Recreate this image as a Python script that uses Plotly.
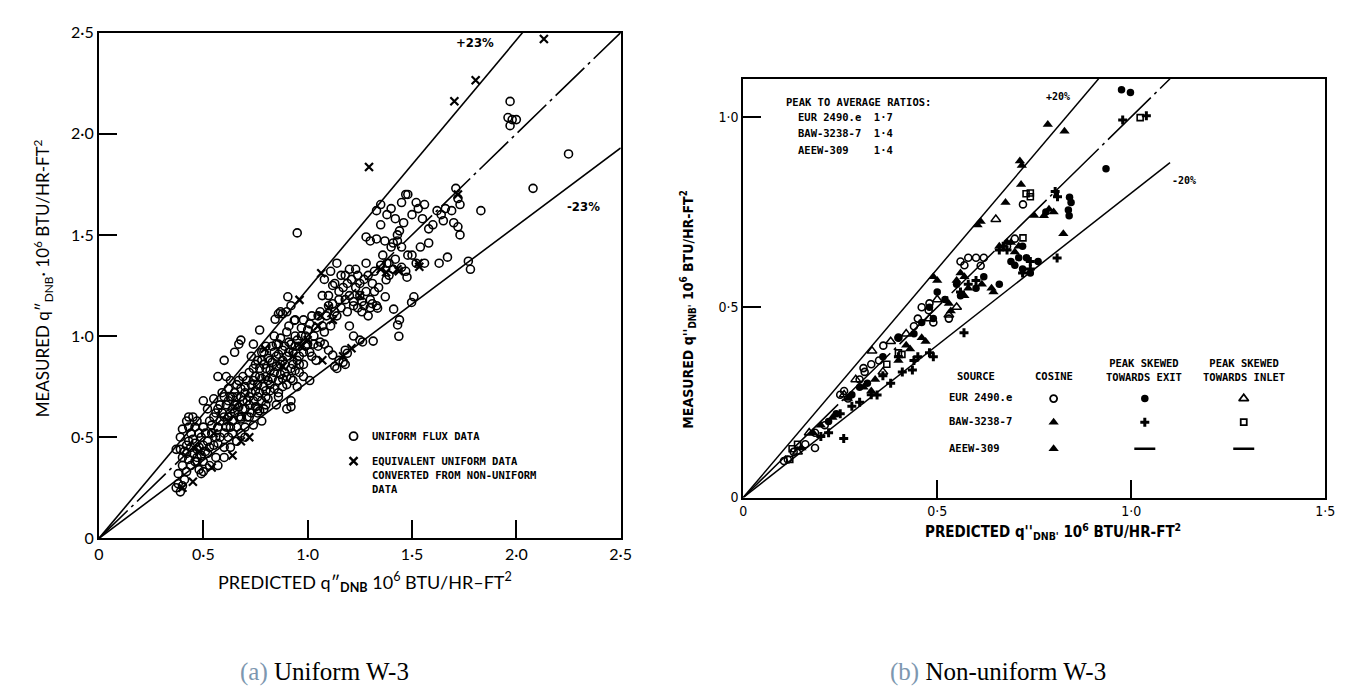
import plotly.graph_objects as go

W, H = 1347, 695

# ---------------- Panel (a): Uniform W-3 ----------------
uni_x = [0.37,0.38,0.39,0.40,0.41,0.38,0.40,0.42,0.43,0.45,0.44,0.46,0.41,0.39,0.43,0.44,0.46,0.47,0.45,0.48,
         0.49,0.47,0.50,0.48,0.51,0.50,0.52,0.53,0.54,0.55,0.56,0.52,0.55,0.57,0.58,0.56,0.53,0.49,0.60,0.58,
         0.60,0.61,0.59,0.62,0.63,0.64,0.62,0.65,0.66,0.63,0.61,0.67,0.68,0.67,0.69,0.70,0.71,0.72,0.70,0.68,
         0.66,0.73,0.72,0.74,0.75,0.73,0.76,0.77,0.78,0.75,0.77,0.79,0.80,0.79,0.81,0.82,0.80,0.83,0.84,0.85,
         0.82,0.86,0.87,0.84,0.86,0.88,0.89,0.90,0.88,0.91,0.92,0.90,0.93,0.94,0.95,0.93,0.96,0.97,0.98,0.99,
         0.96,1.00,1.01,1.02,1.03,0.95,0.92,0.90,0.85,0.78,0.74,0.70,0.66,0.67,0.74,0.60,0.57,0.87,0.86,0.88,
         0.90,0.92,0.905,0.844,0.936,
         1.05,1.07,1.08,1.10,1.12,1.11,1.13,1.15,1.16,1.14,1.18,1.19,1.20,1.22,1.23,1.24,1.25,1.26,1.27,1.28,
         1.30,1.31,1.29,1.32,1.33,1.34,1.35,1.36,1.38,1.40,1.39,1.42,1.41,1.43,1.37,1.35,1.33,1.30,1.28,
         1.20,1.22,1.25,1.18,1.15,1.17,1.13,1.10,1.08,1.06,1.04,1.01,0.98,1.314,1.263,1.19,1.18,1.14,1.12,
         1.437,1.431,1.509,1.498,1.476,1.412,1.372,1.335,1.376,
         1.33,1.35,1.38,1.40,1.42,1.44,1.45,1.47,1.48,1.50,1.52,1.53,1.55,1.56,1.46,1.43,1.45,1.48,1.50,1.52,
         1.54,1.56,1.58,1.62,1.64,1.65,1.63,1.67,1.69,1.70,1.72,1.73,1.72,1.73,1.71,1.66,1.60,1.58,1.39,1.41,
         1.45,1.47,
         1.97,1.96,1.98,1.97,2.00,2.25,2.08,1.83,0.95,1.77,1.78,1.44,
         0.47,0.50,0.57,0.60,0.63,0.92,0.86,0.80,0.76,0.68,0.63,0.37,0.39,0.40,0.42,0.43,0.50,0.65,0.68,0.77,
         0.60,0.62,0.64,0.65,0.66,0.68,0.69,0.70,0.71,0.72,0.73,0.74,0.75,0.76,0.76,0.77,0.78,0.78,0.79,0.80,
         0.80,0.81,0.82,0.83,0.83,0.84,0.85,0.85,0.86,0.87,0.87,0.88,0.89,0.89,0.90,0.91,0.91,0.92,0.93,0.94,
         0.94,0.95,0.96,0.97,0.98,0.98,0.99,1.00,1.01,1.02,1.03,1.04,1.05,1.06,1.07,1.08,1.09,1.10,1.11,1.12,
         1.13,1.14,1.15,1.16,1.17,1.18,1.19,1.20,1.21,1.22,1.23,1.24,1.25,1.26,1.27,1.28,1.29,1.30,1.31,1.32,
         0.50,0.51,0.52,0.53,0.54,0.55,0.56,0.57,0.57,0.58,0.59,0.60,0.61,0.62,0.63,0.64,0.64,0.65,0.66,0.67,
         0.68,0.69,0.70,0.71,0.72,0.73,0.74,0.75,0.76,0.77,0.78,0.79,0.80,0.81,0.82,0.84,0.86,0.88,0.90,0.92,
         0.94,0.96,0.42,0.44,0.45,0.46,0.47,0.48,0.49,0.40,0.42,0.43]
uni_y = [0.25,0.27,0.23,0.26,0.29,0.32,0.36,0.33,0.39,0.42,0.36,0.47,0.43,0.44,0.48,0.52,0.55,0.58,0.60,0.45,
         0.50,0.40,0.38,0.34,0.43,0.55,0.48,0.58,0.52,0.46,0.62,0.64,0.69,0.55,0.50,0.40,0.36,0.32,0.45,0.66,
         0.60,0.55,0.72,0.68,0.62,0.58,0.50,0.72,0.66,0.78,0.80,0.60,0.70,0.78,0.64,0.75,0.68,0.60,0.55,0.52,
         0.55,0.72,0.82,0.78,0.86,0.90,0.70,0.80,0.88,0.65,0.63,0.75,0.84,0.92,0.78,0.88,0.70,0.95,0.82,0.90,
         0.73,0.78,0.86,1.00,0.96,0.93,0.82,0.90,0.75,0.97,0.84,1.02,0.92,1.00,0.88,0.78,0.95,1.04,0.92,1.00,
         0.82,0.96,1.06,0.90,1.00,0.75,0.68,0.64,0.66,0.58,0.56,0.50,0.48,0.96,0.96,0.88,0.80,1.12,1.11,1.11,
         1.12,1.15,1.194,1.083,1.077,
         1.10,1.20,1.28,1.15,1.25,1.32,1.12,1.22,1.30,1.36,1.18,1.26,1.33,1.15,1.24,1.30,1.20,1.12,1.28,1.36,
         1.18,1.26,1.10,1.32,1.15,1.24,1.35,1.40,1.36,1.44,1.30,1.38,1.46,1.50,1.47,1.55,1.48,1.47,1.49,
         1.05,1.00,0.98,0.93,0.88,0.87,0.85,0.93,1.02,0.97,0.88,0.78,0.80,0.975,0.971,0.915,0.86,0.84,0.906,
         0.999,1.055,1.194,1.166,1.291,1.133,1.194,1.138,1.278,
         1.62,1.65,1.60,1.63,1.58,1.52,1.66,1.70,1.70,1.60,1.66,1.63,1.58,1.65,1.56,1.47,1.44,1.40,1.40,1.36,
         1.44,1.36,1.53,1.62,1.60,1.57,1.36,1.39,1.62,1.56,1.68,1.65,1.54,1.50,1.73,1.63,1.55,1.46,1.36,1.33,
         1.34,1.32,
         2.16,2.08,2.07,2.04,2.07,1.90,1.73,1.62,1.51,1.37,1.33,1.08,
         0.38,0.33,0.36,0.40,0.45,0.65,0.70,0.66,0.62,0.59,0.55,0.44,0.50,0.54,0.58,0.60,0.68,0.92,0.98,1.03,
         0.70,0.74,0.70,0.66,0.76,0.74,0.80,0.72,0.78,0.70,0.76,0.84,0.80,0.76,0.88,0.84,0.79,0.92,0.86,0.80,
         0.95,0.89,0.83,0.87,0.79,0.92,0.85,0.96,0.91,0.81,0.99,0.88,0.95,0.86,0.80,0.92,1.05,0.96,0.86,0.95,
         1.08,0.98,0.90,1.00,1.08,0.86,0.95,1.03,0.92,1.10,0.96,1.04,0.95,1.12,1.05,0.96,1.10,1.20,1.05,1.16,
         1.26,1.10,1.18,1.14,1.24,1.30,1.12,1.20,1.28,1.17,1.33,1.14,1.26,1.17,1.15,1.22,1.30,1.14,1.16,1.22,
         0.46,0.52,0.42,0.45,0.56,0.60,0.50,0.64,0.47,0.58,0.62,0.52,0.66,0.60,0.70,0.64,0.52,0.62,0.70,0.65,
         0.60,0.68,0.64,0.60,0.66,0.62,0.68,0.73,0.64,0.72,0.68,0.64,0.73,0.69,0.76,0.74,0.72,0.79,0.76,0.79,
         0.83,0.86,0.42,0.45,0.49,0.38,0.44,0.52,0.41,0.40,0.46,0.55]

eq_x = [2.132,1.805,1.703,1.294,1.065,1.535,1.437,1.376,1.063,0.961,0.795,1.17,1.21,1.07,0.72,0.68,0.64,0.54,
        0.45,0.40,1.72,1.53,1.43,1.12,1.00,0.97,0.88,0.93,1.05,1.10,1.25,1.35,0.62,0.55,0.48]
eq_y = [2.468,2.264,2.161,1.836,1.310,1.343,1.320,1.315,1.100,1.179,0.937,0.90,0.94,0.88,0.50,0.48,0.41,0.35,
        0.28,0.25,1.70,1.36,1.33,1.08,0.98,0.95,0.85,0.90,1.05,1.14,1.20,1.33,0.58,0.52,0.43]

a_ticks = [0, 0.5, 1.0, 1.5, 2.0, 2.5]
a_ticktext = ["0", "0·5", "1·0", "1·5", "2·0", "2·5"]
a_upper_x, a_upper_y = [0, 2.03], [0, 2.5]     # +23 %
a_mid_x, a_mid_y = [0, 2.5], [0, 2.5]
a_lower_x, a_lower_y = [0, 2.5], [0, 1.93]     # -23 %

# ---------------- Panel (b): Non-uniform W-3 ----------------
eur_cos_x = [0.105,0.115,0.13,0.16,0.185,0.185,0.21,0.25,0.26,0.30,0.31,0.313,0.33,0.361,0.40,0.44,0.45,0.46,
             0.478,0.49,0.53,0.56,0.58,0.60,0.612,0.62,0.721,0.68,0.70,0.48,0.27,0.35,0.57]
eur_cos_y = [0.096,0.10,0.12,0.14,0.13,0.17,0.19,0.27,0.28,0.31,0.34,0.33,0.35,0.399,0.42,0.45,0.47,0.50,
             0.492,0.46,0.47,0.62,0.63,0.63,0.609,0.63,0.770,0.66,0.68,0.51,0.26,0.36,0.61]
eur_exit_x = [0.975,0.998,0.935,0.841,0.845,0.838,0.84,0.78,0.72,0.69,0.71,0.70,0.72,0.73,0.62,0.60,0.56,0.55,
              0.48,0.46,0.44,0.50,0.52,0.49,0.40,0.36,0.32,0.28,0.24,0.22,0.30,0.74,0.76,0.66]
eur_exit_y = [1.071,1.064,0.864,0.789,0.775,0.755,0.74,0.75,0.66,0.62,0.63,0.61,0.60,0.63,0.58,0.55,0.53,0.56,
              0.50,0.46,0.43,0.54,0.52,0.47,0.42,0.37,0.30,0.27,0.22,0.20,0.29,0.59,0.62,0.56]
eur_inlet_x = [0.651,0.332,0.36,0.29,0.42,0.50,0.55,0.38,0.17,0.14,0.26,0.48,0.53]
eur_inlet_y = [0.731,0.385,0.33,0.31,0.43,0.52,0.50,0.41,0.17,0.12,0.27,0.47,0.48]
baw_cos_x = [0.785,0.828,0.713,0.718,0.716,0.676,0.612,0.604,0.75,0.788,0.825,0.68,0.66,0.64,0.645,0.58,0.57,
             0.53,0.535,0.49,0.50,0.55,0.56,0.57,0.42,0.43,0.40,0.34,0.31,0.27,0.23,0.20,0.18,0.15,0.33,0.46,
             0.47,0.71,0.70,0.775,0.80,0.615,0.69]
baw_cos_y = [0.980,0.962,0.884,0.872,0.822,0.775,0.725,0.716,0.741,0.757,0.693,0.67,0.66,0.55,0.54,0.55,0.53,
             0.51,0.49,0.58,0.57,0.57,0.59,0.58,0.40,0.39,0.36,0.31,0.29,0.26,0.21,0.19,0.17,0.13,0.28,0.42,
             0.41,0.66,0.645,0.74,0.75,0.56,0.67]
baw_exit_x = [0.978,1.039,0.804,0.81,0.809,0.569,0.436,0.259,0.345,0.33,0.30,0.38,0.41,0.44,0.45,0.49,0.48,
              0.56,0.58,0.60,0.66,0.67,0.68,0.74,0.72,0.20,0.22,0.25,0.28,0.36,0.40,0.74]
baw_exit_y = [0.992,1.003,0.804,0.79,0.629,0.433,0.335,0.155,0.269,0.27,0.25,0.30,0.33,0.36,0.37,0.37,0.38,
              0.54,0.56,0.57,0.65,0.66,0.65,0.60,0.59,0.16,0.17,0.22,0.24,0.32,0.37,0.62]
baw_inlet_x = [1.023,0.729,0.74,0.721,0.409,0.126,0.12,0.14,0.40,0.37,0.74]
baw_inlet_y = [0.998,0.798,0.79,0.682,0.376,0.128,0.10,0.14,0.38,0.35,0.80]

b_xticks = [0, 0.5, 1.0, 1.5]
b_xticktext = ["0", "0·5", "1·0", "1·5"]
b_yticks = [0, 0.5, 1.0]
b_yticktext = ["0", "0·5", "1·0"]
b_upper_x, b_upper_y = [0, 0.916], [0, 1.1]   # +20 %
b_mid_x, b_mid_y = [0, 1.1], [0, 1.1]
b_lower_x, b_lower_y = [0, 1.10], [0, 0.88]   # -20 %

ratio_lines = ["PEAK TO AVERAGE RATIOS:", "EUR 2490.e  1·7", "BAW-3238-7  1·4", "AEEW-309    1·4"]
table_sources = ["EUR 2490.e", "BAW-3238-7", "AEEW-309"]

# ---------------- Figure ----------------
fig = go.Figure()
BLK = "black"
SANS = "Lato"
MONO = "DejaVu Sans Mono"
COND = "DejaVu Sans Condensed"

# reference lines, panel (a)
fig.add_trace(go.Scatter(x=a_upper_x, y=a_upper_y, mode="lines", line=dict(color=BLK, width=1.6), xaxis="x", yaxis="y"))
fig.add_trace(go.Scatter(x=a_mid_x, y=a_mid_y, mode="lines", line=dict(color=BLK, width=1.6, dash="40px,5px,3px,5px"), xaxis="x", yaxis="y"))
fig.add_trace(go.Scatter(x=a_lower_x, y=a_lower_y, mode="lines", line=dict(color=BLK, width=1.6), xaxis="x", yaxis="y"))
fig.add_trace(go.Scatter(x=uni_x, y=uni_y, mode="markers", xaxis="x", yaxis="y",
                         marker=dict(symbol="circle-open", size=8, color=BLK, line=dict(width=1.6))))
fig.add_trace(go.Scatter(x=eq_x, y=eq_y, mode="markers", xaxis="x", yaxis="y",
                         marker=dict(symbol="x-thin", size=8, color=BLK, line=dict(width=2.2, color=BLK))))
# legend symbols panel (a)
fig.add_trace(go.Scatter(x=[1.22], y=[0.505], mode="markers", xaxis="x", yaxis="y",
                         marker=dict(symbol="circle-open", size=8, color=BLK, line=dict(width=1.8))))
fig.add_trace(go.Scatter(x=[1.22], y=[0.382], mode="markers", xaxis="x", yaxis="y",
                         marker=dict(symbol="x-thin", size=8, color=BLK, line=dict(width=2.4, color=BLK))))

# reference lines, panel (b)
fig.add_trace(go.Scatter(x=b_upper_x, y=b_upper_y, mode="lines", line=dict(color=BLK, width=1.5), xaxis="x2", yaxis="y2"))
fig.add_trace(go.Scatter(x=b_mid_x, y=b_mid_y, mode="lines", line=dict(color=BLK, width=1.5, dash="60px,5px,3px,5px"), xaxis="x2", yaxis="y2"))
fig.add_trace(go.Scatter(x=b_lower_x, y=b_lower_y, mode="lines", line=dict(color=BLK, width=1.5), xaxis="x2", yaxis="y2"))

def pts(x, y, sym, size=7, lw=1.3):
    fig.add_trace(go.Scatter(x=x, y=y, mode="markers", xaxis="x2", yaxis="y2",
                             marker=dict(symbol=sym, size=size, color=BLK, line=dict(width=lw, color=BLK))))

pts(eur_cos_x, eur_cos_y, "circle-open", 7, 1.6)
pts(eur_exit_x, eur_exit_y, "circle", 7.5, 0)
pts(eur_inlet_x, eur_inlet_y, "triangle-up-open", 8.5, 1.5)
pts(baw_cos_x, baw_cos_y, "triangle-up", 9, 0)
pts(baw_exit_x, baw_exit_y, "cross", 7.5, 0)
pts(baw_inlet_x, baw_inlet_y, "square-open", 6, 1.6)

# table symbols panel (b)
col_x = [0.80, 1.035, 1.29]
row_y = [0.260, 0.198, 0.128]
pts([col_x[0]], [row_y[0]], "circle-open", 7, 1.8)
pts([col_x[1]], [row_y[0]], "circle", 7.5, 0)
pts([col_x[2]], [row_y[0]], "triangle-up-open", 8.5, 1.8)
pts([col_x[0]], [row_y[1]], "triangle-up", 9, 0)
pts([col_x[1]], [row_y[1]], "cross", 7.5, 0)
pts([col_x[2]], [row_y[1]], "square-open", 6, 1.8)
pts([col_x[0]], [row_y[2]], "triangle-up", 9, 0)
pts([col_x[1], col_x[2]], [row_y[2], row_y[2]], "line-ew", 15, 2.6)

ann = []
def A(text, x, y, xref, yref, size=11, family=MONO, xanchor="left", yanchor="middle", angle=0, color=BLK):
    ann.append(dict(text=text, x=x, y=y, xref=xref, yref=yref, showarrow=False, xanchor=xanchor,
                    yanchor=yanchor, textangle=angle, font=dict(family=family, size=size, color=color)))

def P(px, py):
    return px / W, 1 - py / H

# panel (a) texts
A("<b>+23%</b>", 1.80, 2.45, "x", "y", 13, COND, "center")
A("<b>-23%</b>", 2.32, 1.64, "x", "y", 13, COND, "center")
A("<b>UNIFORM FLUX DATA</b>", 1.30, 0.505, "x", "y", 10.5)
A("<b>EQUIVALENT UNIFORM DATA</b>", 1.30, 0.382, "x", "y", 10.5)
A("<b>CONVERTED FROM NON-UNIFORM</b>", 1.30, 0.312, "x", "y", 10.5)
A("<b>DATA</b>", 1.30, 0.242, "x", "y", 10.5)
x0, y0 = P(356, 580)
A("PREDICTED q″<sub><b>DNB</b></sub> 10<sup>6</sup> BTU/HR–FT<sup>2</sup>", x0, y0, "paper", "paper", 18, SANS, "center")
x0, y0 = P(30, 268)
A("MEASURED q″<sub>DNB</sub>· 10<sup>6</sup> BTU/HR-FT<sup>2</sup>", x0, y0, "paper", "paper", 17, SANS, "center", angle=-90)

# panel (b) texts
A("<b>+20%</b>", 0.81, 1.053, "x2", "y2", 10, MONO, "center")
A("<b>-20%</b>", 1.135, 0.834, "x2", "y2", 10, MONO, "center")
for i, t in enumerate(ratio_lines):
    A("<b>" + t.replace(" ", "&nbsp;") + "</b>", 0.105 if i == 0 else 0.137, [1.039, 1.0, 0.957, 0.912][i], "x2", "y2", 10.5)
A("<b>SOURCE</b>", 0.601, 0.319, "x2", "y2", 10.5, MONO, "center")
A("<b>COSINE</b>", 0.80, 0.319, "x2", "y2", 10.5, MONO, "center")
A("<b>PEAK SKEWED<br>TOWARDS EXIT</b>", 1.033, 0.335, "x2", "y2", 10.5, MONO, "center")
A("<b>PEAK SKEWED<br>TOWARDS INLET</b>", 1.29, 0.335, "x2", "y2", 10.5, MONO, "center")
for t, yy in zip(table_sources, row_y):
    A("<b>" + t + "</b>", 0.526, yy + 0.003, "x2", "y2", 10.5)
x0, y0 = P(1052, 528)
A("<b>PREDICTED q''<sub>DNB'</sub> 10<sup>6</sup> BTU/HR-FT<sup>2</sup></b>", x0, y0, "paper", "paper", 15, COND, "center")
x0, y0 = P(683, 300)
A("<b>MEASURED q''<sub>DNB'</sub> 10<sup>6</sup> BTU/HR-FT<sup>2</sup></b>", x0, y0, "paper", "paper", 14, COND, "center", angle=-90)

# captions
SERIF = "Liberation Serif"
x0, y0 = P(315, 672)
A("<span style='color:#7d97b0'>(a)</span> Uniform W-3", x0, y0, "paper", "paper", 25, SERIF, "center")
x0, y0 = P(997, 672)
A("<span style='color:#7d97b0'>(b)</span> Non-uniform W-3", x0, y0, "paper", "paper", 25, SERIF, "center")

axis_common = dict(showgrid=False, zeroline=False, showline=True, linecolor=BLK, linewidth=2, mirror=True,
                   ticks="inside", ticklen=18, tickwidth=1.6, tickcolor=BLK)

fig.update_layout(
    width=W, height=H, showlegend=False,
    margin=dict(l=0, r=0, t=0, b=0),
    paper_bgcolor="white", plot_bgcolor="white",
    xaxis=dict(domain=[87 / W, 615 / W], range=[0, 2.5], anchor="y", tickvals=a_ticks, ticktext=a_ticktext,
               tickfont=dict(family=SANS, size=16, color=BLK), **axis_common),
    yaxis=dict(domain=[1 - 535 / H, 1 - 15 / H], range=[0, 2.5], anchor="x", tickvals=a_ticks, ticktext=a_ticktext,
               tickfont=dict(family=SANS, size=16, color=BLK), **axis_common),
    xaxis2=dict(domain=[739 / W, 1328 / W], range=[0, 1.5], anchor="y2", tickvals=b_xticks, ticktext=b_xticktext,
                tickfont=dict(family=COND, size=14, color=BLK), **axis_common),
    yaxis2=dict(domain=[1 - 493 / H, 1 - 62.5 / H], range=[0, 1.1], anchor="x2", tickvals=b_yticks, ticktext=b_yticktext,
                tickfont=dict(family=COND, size=14, color=BLK), **axis_common),
    annotations=ann,
)

fig.write_html("out.html")
